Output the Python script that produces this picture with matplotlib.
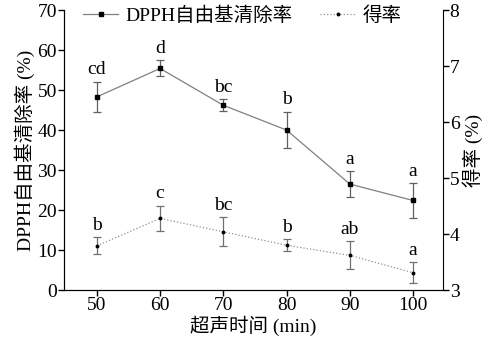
import numpy as np
import matplotlib.pyplot as plt
from matplotlib.lines import Line2D

plt.rcParams['font.family'] = ['Liberation Serif', 'Noto Sans CJK SC']
plt.rcParams['font.size'] = 14
plt.rcParams['axes.unicode_minus'] = False

# 超声时间 (min)
t = [50, 60, 70, 80, 90, 100]

# DPPH自由基清除率 (%) 及误差
dpph = [48.3, 55.4, 46.2, 40.0, 26.5, 22.4]
dpph_err = [3.8, 2.0, 1.5, 4.6, 3.3, 4.4]
dpph_lab = ['cd', 'd', 'bc', 'b', 'a', 'a']

# 得率 (%) 及误差
yld = [3.79, 4.28, 4.04, 3.80, 3.62, 3.31]
yld_err = [0.15, 0.23, 0.26, 0.11, 0.25, 0.19]
yld_lab = ['b', 'c', 'bc', 'b', 'ab', 'a']

fig = plt.figure(figsize=(4.92, 3.47), dpi=100)
ax = fig.add_axes([0.130, 0.164, 0.770, 0.807])
ax2 = ax.twinx()

ax.errorbar(t, dpph, yerr=dpph_err, color='#808080', lw=0.9, ecolor='#606060',
            elinewidth=0.9, capsize=3, capthick=0.9, marker='s', ms=2.5,
            mfc='black', mec='black')
ax2.errorbar(t, yld, yerr=yld_err, color='#909090', lw=0.9, ls=':', ecolor='#707070',
             elinewidth=0.9, capsize=3, capthick=0.9, marker='o', ms=1.8,
             mfc='black', mec='black')

for x, y, e, s in zip(t, dpph, dpph_err, dpph_lab):
    ax.text(x, y + e + 0.8, s, ha='center', va='bottom', fontsize=14)
for x, y, e, s in zip(t, yld, yld_err, yld_lab):
    ax2.text(x, y + e + 0.06, s, ha='center', va='bottom', fontsize=14)

ax.set_xlim(44.8, 104.7)
ax.set_ylim(0, 70)
ax2.set_ylim(3, 8)
ax.set_xticks(t)
ax.set_yticks(np.arange(0, 71, 10))
ax2.set_yticks(np.arange(3, 9, 1))

for a in (ax, ax2):
    a.spines['top'].set_visible(False)
    a.tick_params(direction='out', length=4, width=1, pad=1)
ax.spines['right'].set_visible(False)

ax.set_xlabel('超声时间 (min)', labelpad=1)
ax.set_ylabel('DPPH自由基清除率 (%)', labelpad=2)
ax2.set_ylabel('得率 (%)', labelpad=2)

h1 = Line2D([], [], color='#808080', lw=0.9, marker='s', ms=2.5, mfc='black', mec='black')
h2 = Line2D([], [], color='#909090', lw=0.9, ls=':', marker='o', ms=1.8, mfc='black', mec='black')
ax.legend([h1, h2], ['DPPH自由基清除率', '得率'], loc='upper left', ncol=2, frameon=False,
          bbox_to_anchor=(0.03, 1.04), handlelength=1.8, columnspacing=1.4,
          handletextpad=0.4, borderaxespad=0)

fig.savefig('out.png', dpi=100)
